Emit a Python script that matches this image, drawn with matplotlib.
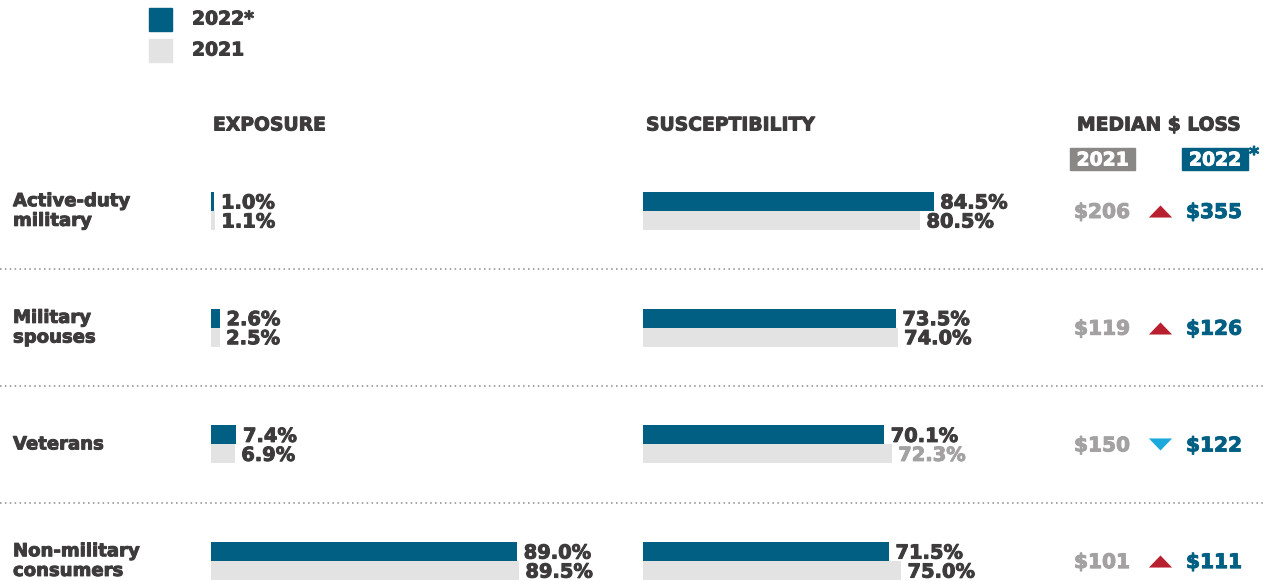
import matplotlib.pyplot as plt
from matplotlib.patches import Rectangle
import matplotlib.patheffects as pe

# data
groups = ["Active-duty\nmilitary", "Military\nspouses", "Veterans", "Non-military\nconsumers"]
exposure_2022 = [1.0, 2.6, 7.4, 89.0]
exposure_2021 = [1.1, 2.5, 6.9, 89.5]
suscept_2022 = [84.5, 73.5, 70.1, 71.5]
suscept_2021 = [80.5, 74.0, 72.3, 75.0]
loss_2021 = [206, 119, 150, 101]
loss_2022 = [355, 126, 122, 111]

BLUE = "#005f83"
LIGHT = "#e4e3e4"
DARK = "#3d3b3b"
GREYTXT = "#a3a1a1"
RED = "#b8202f"
CYAN = "#1ba9dc"

W, H = 1266, 581
ROW0, STEP = 211, 116.7          # pixel centre of first row and row pitch
ylim = ((H - ROW0) / STEP, -ROW0 / STEP)
bh = 19 / STEP
dy = 1.5 / STEP                   # small nudge so text sits on bar centre

plt.rcParams['font.family'] = ['DejaVu Sans']
fig = plt.figure(figsize=(W / 100, H / 100), dpi=100)


def heavy(color):
    # thicken the bold face a little, the original uses a black weight
    return [pe.withStroke(linewidth=0.7, foreground=color)]


def px(x, y):
    return x / W, 1 - y / H


# background axes for separators, row labels and median loss
ax0 = fig.add_axes([0, 0, 1, 1])
ax0.set_xlim(0, W)
ax0.set_ylim(*ylim)
ax0.axis("off")

for i in range(len(groups) - 1):
    ax0.plot([0, W], [i + 0.5, i + 0.5], color="#8a8a8a", lw=1.1,
             linestyle=(0, (1, 2.2)))

tri_up = [(-1, -0.52), (1, -0.52), (0, 0.52)]
tri_dn = [(-1, 0.52), (1, 0.52), (0, -0.52)]
for i, g in enumerate(groups):
    ax0.text(13, i, g, ha="left", va="center", fontsize=13, fontweight="bold",
             color=DARK, linespacing=1.12, path_effects=heavy(DARK))
    ax0.text(1102, i + dy, f"${loss_2021[i]}", ha="center", va="center", fontsize=14.5,
             fontweight="bold", color=GREYTXT, path_effects=heavy(GREYTXT))
    ax0.text(1214, i + dy, f"${loss_2022[i]}", ha="center", va="center", fontsize=14.5,
             fontweight="bold", color=BLUE, path_effects=heavy(BLUE))
    up = loss_2022[i] > loss_2021[i]
    ax0.scatter([1160], [i], marker=tri_up if up else tri_dn, s=280,
                color=RED if up else CYAN, linewidths=0)


def panel(left, v22, v21, grey_flags=None):
    ax = fig.add_axes([left / W, 0, 344 / W, 1])
    ax.set_xlim(0, 100)
    ax.set_ylim(*ylim)
    ax.axis("off")
    ys = list(range(len(v22)))
    ax.barh([y - bh / 2 for y in ys], v22, height=bh, color=BLUE, left=0)
    ax.barh([y + bh / 2 for y in ys], v21, height=bh, color=LIGHT, left=0)
    for y, a, b in zip(ys, v22, v21):
        ax.text(a + 1.9, y - bh / 2 + dy, f"{a:.1f}%", ha="left", va="center",
                fontsize=14, fontweight="bold", color=DARK, path_effects=heavy(DARK))
        c = GREYTXT if (grey_flags and grey_flags[y]) else DARK
        ax.text(b + 1.9, y + bh / 2 + dy, f"{b:.1f}%", ha="left", va="center",
                fontsize=14, fontweight="bold", color=c, path_effects=heavy(c))
    return ax


panel(211, exposure_2022, exposure_2021)
panel(643, suscept_2022, suscept_2021, grey_flags=[False, False, True, False])

# headers
for x, t in [(213, "EXPOSURE"), (646, "SUSCEPTIBILITY"), (1077, "MEDIAN $ LOSS")]:
    fig.text(*px(x, 125), t, ha="left", va="center", fontsize=13.5,
             fontweight="bold", color=DARK, path_effects=heavy(DARK))

fig.patches.append(Rectangle(px(1070, 170), 65 / W, 22 / H, color="#8a8787",
                             transform=fig.transFigure))
fig.patches.append(Rectangle(px(1182, 170), 66 / W, 22 / H, color=BLUE,
                             transform=fig.transFigure))
fig.text(*px(1102.5, 160), "2021", ha="center", va="center", fontsize=13.5,
         fontweight="bold", color="white", path_effects=heavy("white"))
fig.text(*px(1215, 160), "2022", ha="center", va="center", fontsize=13.5,
         fontweight="bold", color="white", path_effects=heavy("white"))
fig.text(*px(1254, 155), "*", ha="center", va="center", fontsize=14,
         fontweight="bold", color=BLUE, path_effects=heavy(BLUE))

# legend
fig.patches.append(Rectangle(px(149, 31), 23 / W, 23 / H, color=BLUE,
                             transform=fig.transFigure))
fig.patches.append(Rectangle(px(149, 62), 23 / W, 23 / H, color=LIGHT,
                             transform=fig.transFigure))
fig.text(*px(192, 19), "2022*", ha="left", va="center", fontsize=13.5,
         fontweight="bold", color=DARK, path_effects=heavy(DARK))
fig.text(*px(192, 50), "2021", ha="left", va="center", fontsize=13.5,
         fontweight="bold", color=DARK, path_effects=heavy(DARK))

fig.savefig("out.png", dpi=100)
